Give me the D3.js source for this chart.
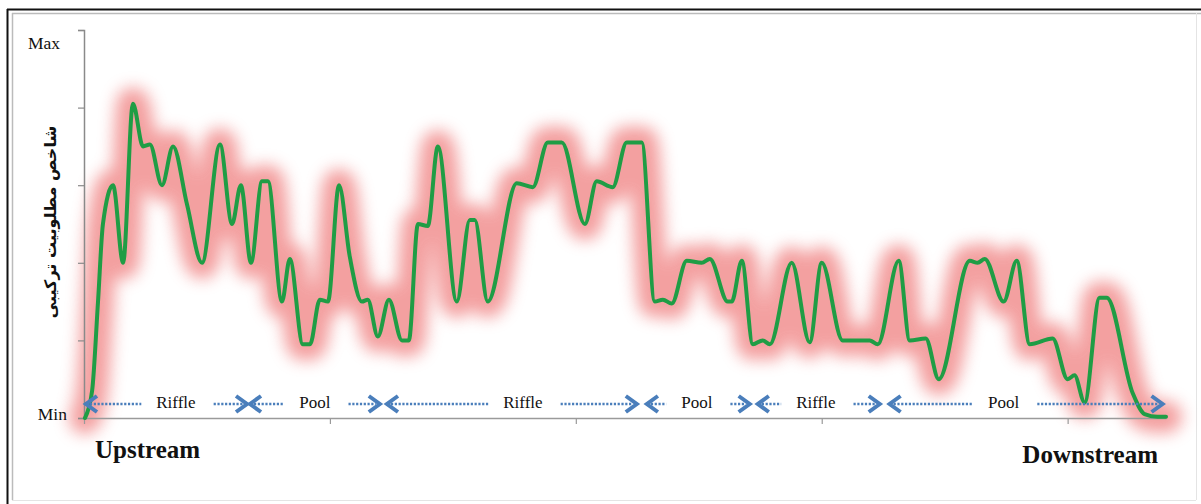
<!DOCTYPE html>
<html>
<head>
<meta charset="utf-8">
<script src="https://cdn.jsdelivr.net/npm/d3@7"></script>
<style>
  html, body { margin: 0; padding: 0; background: #fff; }
  svg { display: block; }
</style>
</head>
<body>
<svg id="chart" width="1201" height="504"></svg>
<script>
// ---------- data ----------
// station along the river (km) and composite suitability index (0 = Min, 100 = Max)
const stations = [0.04,0.33,0.57,0.77,1.18,1.59,1.99,2.40,2.68,3.17,3.62,4.19,4.80,5.53,6.02,6.38,6.79,7.24,7.48,8.05,
  8.37,8.90,9.19,9.59,9.92,10.37,10.81,11.30,11.54,11.95,12.40,12.93,13.21,13.58,13.98,14.39,15.16,15.69,15.89,16.42,
  17.60,18.25,18.86,19.43,20.37,20.85,21.50,22.07,22.68,23.21,23.54,23.90,24.51,25.12,25.45,26.18,26.34,26.75,27.20,27.60,
  27.89,28.78,29.51,30.00,30.85,31.95,32.28,33.13,33.58,34.23,34.76,36.02,36.34,36.63,37.40,37.93,38.46,39.39,40.00,40.28,
  40.69,41.30,41.59,42.64,43.13,43.66,44.00];
const indexValues = [0,7,30,50,60,40,81,70,70.5,60,70,55,40,70.5,50,60,40,61,61,30,
  41,19,19,30.5,30,60,41.5,30,30.5,21,30.5,20,20,50,49.5,70,30,51,51,30,
  60.5,59.5,71,71,50,61,59.5,71,71,30,30.5,29.5,40.5,40,41,30,30,40.5,19,20,
  19,40,19.5,40,20,20,19,40.5,20,20.5,10,40.5,40,41,30,40.5,19,20.5,10,11,
  4,31,31,6.5,1,0.3,0.3];

const zoneLabels = ["Riffle","Pool","Riffle","Pool","Riffle","Pool"];
const zoneStart  = [0.08, 6.75, 12.32, 22.89, 27.40, 32.76];
const zoneEnd    = [6.63, 12.03, 22.48, 27.07, 32.36, 43.86];
const zoneLabelAt= [3.74, 9.39, 17.85, 24.92, 29.76, 37.40];

const yTickValues = [0,20,40,60,80,100];
const xTickValues = [0,10,20,30,40];
const yEndLabels = ["Min","Max"];
const xEndLabels = ["Upstream","Downstream"];
const yTitle = "شاخص مطلوبیت ترکیبی";

// ---------- layout ----------
const svg = d3.select("#chart");
const x = d3.scaleLinear().domain([0,44]).range([84,1166]);
const y = d3.scaleLinear().domain([0,100]).range([418,30]);

// frame
svg.append("line").attr("x1",7).attr("x2",1201).attr("y1",9.5).attr("y2",9.5).attr("stroke","#111").attr("stroke-width",2);
svg.append("line").attr("x1",7.5).attr("x2",7.5).attr("y1",9).attr("y2",504).attr("stroke","#111").attr("stroke-width",2);
svg.append("line").attr("x1",12).attr("x2",1201).attr("y1",13.5).attr("y2",13.5).attr("stroke","#bbb").attr("stroke-width",1.5);
svg.append("line").attr("x1",12.5).attr("x2",12.5).attr("y1",13).attr("y2",500).attr("stroke","#bbb").attr("stroke-width",1.5);
svg.append("line").attr("x1",1196.5).attr("x2",1196.5).attr("y1",13).attr("y2",500).attr("stroke","#e4e4e4").attr("stroke-width",1);
svg.append("line").attr("x1",12).attr("x2",1196).attr("y1",500.5).attr("y2",500.5).attr("stroke","#e4e4e4").attr("stroke-width",1);

// blur filter for glow
const defs = svg.append("defs");
const f = defs.append("filter").attr("id","glow").attr("filterUnits","userSpaceOnUse")
  .attr("x",0).attr("y",0).attr("width",1201).attr("height",504);
f.append("feGaussianBlur").attr("stdDeviation",8);

const data = stations.map((s,i)=>({s, v:indexValues[i]}));
const line = d3.line().x(d=>x(d.s)).y(d=>y(d.v)).curve(d3.curveMonotoneX);

// glow
svg.append("path").datum(data).attr("d",line)
  .attr("fill","none").attr("stroke","#ef7c7c").attr("stroke-width",32)
  .attr("stroke-linejoin","round").attr("stroke-linecap","round")
  .attr("opacity",0.72).attr("filter","url(#glow)");

// axes
const yAxis = svg.append("g").attr("transform","translate(84,0)")
  .call(d3.axisLeft(y).tickValues(yTickValues).tickSize(6).tickFormat(""));
yAxis.select(".domain").attr("stroke","#8a8a8a").attr("stroke-width",1.5);
yAxis.selectAll(".tick line").attr("stroke","#8a8a8a").attr("stroke-width",1.2);

const xAxis = svg.append("g").attr("transform","translate(0,418)")
  .call(d3.axisBottom(x).tickValues(xTickValues).tickSize(6).tickSizeOuter(0).tickFormat(""));
xAxis.select(".domain").attr("stroke","#9a9a9a").attr("stroke-width",1.5);
xAxis.selectAll(".tick line").attr("stroke","#9a9a9a").attr("stroke-width",1.2);

// main line
svg.append("path").datum(data).attr("d",line)
  .attr("fill","none").attr("stroke","#1f9d45").attr("stroke-width",4)
  .attr("stroke-linejoin","round").attr("stroke-linecap","round");

// y end labels
svg.append("text").text(yEndLabels[0]).attr("x",67).attr("y",y(0)+2)
  .attr("text-anchor","end").attr("font-family","Liberation Serif").attr("font-size",17.5).attr("fill","#111");
svg.append("text").text(yEndLabels[1]).attr("x",60).attr("y",y(100)+19)
  .attr("text-anchor","end").attr("font-family","Liberation Serif").attr("font-size",17.5).attr("fill","#111");

// y title
svg.append("text").text(yTitle)
  .attr("transform","translate(56,222) rotate(-90)")
  .attr("text-anchor","middle").attr("direction","rtl")
  .attr("font-family","DejaVu Sans").attr("font-weight","bold").attr("font-size",16).attr("fill","#111");

// x end labels
svg.append("text").text(xEndLabels[0]).attr("x",95).attr("y",458)
  .attr("font-family","Liberation Serif").attr("font-weight","bold").attr("font-size",25).attr("fill","#111");
svg.append("text").text(xEndLabels[1]).attr("x",1158).attr("y",463).attr("text-anchor","end")
  .attr("font-family","Liberation Serif").attr("font-weight","bold").attr("font-size",25).attr("fill","#111");

// zones (dotted arrows)
const blue = "#4a7ebb";
const ay = 404;
const zg = svg.append("g");
zoneLabels.forEach((lab,i)=>{
  const t = zg.append("text").text(lab).attr("x",x(zoneLabelAt[i])).attr("y",ay+4)
    .attr("text-anchor","middle").attr("font-family","Liberation Serif").attr("font-size",17).attr("fill","#111");
  const w = t.node().getComputedTextLength();
  const x0 = x(zoneStart[i]), x1 = x(zoneEnd[i]);
  const lx = x(zoneLabelAt[i]);
  const gl = lx - w/2 - 15, gr = lx + w/2 + 18;
  const dot = {stroke: blue, "stroke-width": 2.5, "stroke-dasharray": "2.2,1.6"};
  const l1 = zg.append("line").attr("x1",x0+4).attr("x2",gl).attr("y1",ay).attr("y2",ay);
  const l2 = zg.append("line").attr("x1",gr).attr("x2",x1-4).attr("y1",ay).attr("y2",ay);
  [l1,l2].forEach(l=>Object.entries(dot).forEach(([k,v])=>l.attr(k,v)));
  zg.append("path").attr("d",`M${x0+11},${ay-8}L${x0},${ay}L${x0+11},${ay+8}`)
    .attr("fill","none").attr("stroke",blue).attr("stroke-width",4).attr("stroke-linejoin","miter");
  zg.append("path").attr("d",`M${x1-11},${ay-8}L${x1},${ay}L${x1-11},${ay+8}`)
    .attr("fill","none").attr("stroke",blue).attr("stroke-width",4).attr("stroke-linejoin","miter");
});
</script>
</body>
</html>
